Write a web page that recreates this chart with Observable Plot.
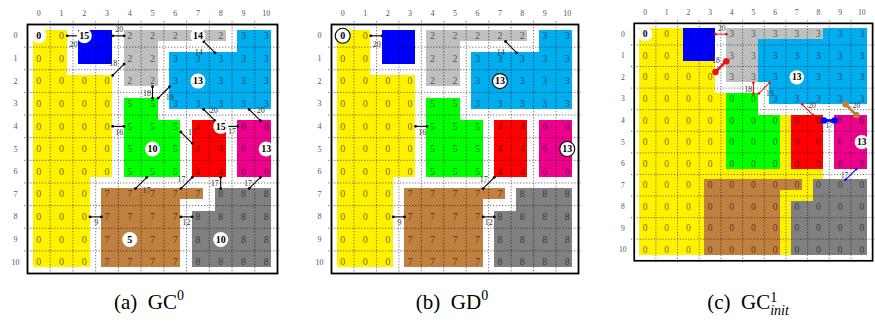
<!DOCTYPE html>
<html><head><meta charset="utf-8">
<script src="https://cdn.jsdelivr.net/npm/d3@7"></script>
<script src="https://cdn.jsdelivr.net/npm/@observablehq/plot@0.6"></script>
<style>
html,body{margin:0;padding:0;background:#fff;}
#root{position:relative;width:875px;height:323px;overflow:hidden;font-family:"Liberation Serif",serif;color:#000;}
.panel{position:absolute;top:0;}
.cap{position:absolute;top:288px;width:300px;font-size:21px;text-align:center;white-space:nowrap;line-height:28px;}
.cap sup{font-size:14px;vertical-align:9px;line-height:0;}
.stack{display:inline-block;vertical-align:-6px;line-height:13px;font-size:14px;text-align:left;}
.stack i{display:block;}
</style></head><body><div id="root"></div>
<script>
// ---------- data ----------
const ticks = [0,1,2,3,4,5,6,7,8,9,10];
// original region id of every cell (row 0 at top)
const regionRows = [
  "00112222233",
  "00112233333",
  "00002233333",
  "00005533333",
  "00005554466",
  "00005554466",
  "00005554466",
  "00077777888",
  "00077778888",
  "00077778888",
  "00077778888"
];
const regionColors = ["#fff200","#0000ff","#bfbfbf","#00aeef","#ff0000","#00ff00","#ec008c","#bf8040","#808080"];
// label of each original region after merging (panel c)
const mergedLabelC = [0,0,3,3,0,0,6,0,0];
// circled nodes [row, col, value]
const nodesA = [[0,0,0],[0,2,15],[0,7,14],[2,7,13],[4,8,15],[5,5,10],[5,10,13],[9,4,5],[9,8,10]];
const nodesB = [[0,0,0],[2,7,13],[5,10,13]];
const nodesC = [[0,0,0],[2,7,13],[5,10,13]];
// edges [row1, col1, row2, col2, weight]
const edgesA = [[0,1,0,2,20],[0,3,0,4,20],[2,3,1,4,18],[2,5,3,5,18],[3,5,2,6,19],[0,7,1,8,14],
  [3,7,4,8,20],[3,9,4,10,20],[4,8,4,9,17],[4,6,5,7,17],[6,7,7,6,17],[6,5,7,4,17],
  [6,8,7,8,17],[6,10,7,9,17],[8,2,8,3,9],[8,6,8,7,12],[4,3,4,4,16]];
const edgesB = [[0,1,0,2,20],[0,7,1,8,14],[4,3,4,4,16],[6,7,7,6,17],[8,2,8,3,9],[8,6,8,7,12]];
const edgesC = [[0,3,0,4,20],[2,3,1,4,18],[2,5,3,5,18],[3,5,2,6,19],[3,7,4,8,20],[4,8,4,9,17],[3,9,4,10,20],[6,10,7,9,17]];
const edgeColorC = ["red","red","red","red","red","blue","brown","blue"];
const edgeBoldC = [false,true,false,false,false,true,true,false];

// ---------- layout / style ----------
const labelShift = { // [dRow, dCol] from edge midpoint
  "0,1-0,2":[0.37,0.02],"0,3-0,4":[-0.27,0.04],"2,3-1,4":[-0.28,-0.23],"2,5-3,5":[0.05,-0.24],
  "3,5-2,6":[0.24,0.26],"0,7-1,8":[0.22,-0.46],"3,7-4,8":[-0.21,0.2],"3,9-4,10":[-0.21,0.26],
  "4,8-4,9":[0.23,0],"4,6-5,7":[-0.25,0.24],"6,7-7,6":[-0.14,-0.22],"6,5-7,4":[0.31,0.24],
  "6,8-7,8":[0.04,-0.26],"6,10-7,9":[0.04,-0.3],"8,2-8,3":[0.26,0.03],"8,6-8,7":[0.26,0],"4,3-4,4":[0.27,0.04]
};
const edgeColorMap = {black:"#000", red:"#ee1111", blue:"#0000ff", brown:"#bf8040"};
const SERIF = "Liberation Serif, serif";

const grid = regionRows.map(s => s.split("").map(Number));
const cells = [];
grid.forEach((row,r) => row.forEach((v,c) => cells.push({r,c,v})));

function pieces(g, colorOf) {
  const n = g.length, m = g[0].length, q = 0.25, out = [];
  const at = (r,c) => (r<0||c<0||r>=n||c>=m) ? null : g[r][c];
  for (let r=0;r<n;r++) for (let c=0;c<m;c++) {
    const v = at(r,c); if (v==null) continue;
    const s = (dr,dc) => at(r+dr,c+dc) === v;
    const L=s(0,-1), R=s(0,1), T=s(-1,0), B=s(1,0), fill = colorOf(v);
    out.push({x1:c-(L?0.5:q), x2:c+(R?0.5:q), y1:r-q, y2:r+q, fill});
    if (T) out.push({x1:c-(L&&s(-1,-1)?0.5:q), x2:c+(R&&s(-1,1)?0.5:q), y1:r-0.5, y2:r-q, fill});
    if (B) out.push({x1:c-(L&&s(1,-1)?0.5:q), x2:c+(R&&s(1,1)?0.5:q), y1:r+q, y2:r+0.5, fill});
  }
  return out;
}

function edgeRows(edges, colors, bolds) {
  return edges.map((e,i) => {
    const [r1,c1,r2,c2,w] = e, dr=r2-r1, dc=c2-c1;
    const sh = labelShift[`${r1},${c1}-${r2},${c2}`] || [0.25,0];
    return {ya:r1+0.25*dr, xa:c1+0.25*dc, yb:r1+0.75*dr, xb:c1+0.75*dc,
      ly:(r1+r2)/2+sh[0], lx:(c1+c2)/2+sh[1], w,
      color: edgeColorMap[colors ? colors[i] : "black"], bold: bolds ? bolds[i] : false};
  });
}

function panel({width, layers, labelOf, nodes, nodeStroke, edges}) {
  const nodeSet = new Set(nodes.map(d => d[0]+","+d[1]));
  const txt = cells.filter(d => !nodeSet.has(d.r+","+d.c));
  const ends = edges.flatMap(e => [{x:e.xa,y:e.ya,e},{x:e.xb,y:e.yb,e}]);
  const thin = edges.filter(e => !e.bold), bold = edges.filter(e => e.bold);
  const thinEnds = ends.filter(d => !d.e.bold), boldEnds = ends.filter(d => d.e.bold);
  const bounds = [0.5,1.5,2.5,3.5,4.5,5.5,6.5,7.5,8.5,9.5];
  return Plot.plot({
    width, height: 278, marginLeft: 27, marginRight: 3, marginTop: 24, marginBottom: 5,
    x: {domain: [-0.5,10.5], axis: null},
    y: {domain: [10.5,-0.5], axis: null},
    style: {fontFamily: SERIF, background: "white", overflow: "visible"},
    marks: [
      ...layers.map(L => Plot.rect(L, {x1:"x1", x2:"x2", y1:"y1", y2:"y2", fill:"fill", shapeRendering:"crispEdges"})),
      Plot.ruleX(bounds, {x: d=>d, y1:-0.62, y2:10.62, stroke:"#000", strokeWidth:0.7, strokeDasharray:"1,2"}),
      Plot.ruleY(bounds, {y: d=>d, x1:-0.62, x2:10.62, stroke:"#000", strokeWidth:0.7, strokeDasharray:"1,2"}),
      Plot.frame({stroke:"#000", strokeWidth:1.8}),
      Plot.text(txt, {x:"c", y:"r", text: d => labelOf(d.v), fontSize:10, fill:"#000", fillOpacity:0.6}),
      Plot.link(thin, {x1:"xa", y1:"ya", x2:"xb", y2:"yb", stroke: d=>d.color, strokeWidth:1.1}),
      Plot.link(bold, {x1:"xa", y1:"ya", x2:"xb", y2:"yb", stroke: d=>d.color, strokeWidth:2.8}),
      Plot.dot(thinEnds, {x:"x", y:"y", r:1.4, fill: d=>d.e.color, stroke:"none"}),
      Plot.dot(boldEnds, {x:"x", y:"y", r:3.4, fill: d=>d.e.color, stroke:"none"}),
      Plot.text(edges, {x:"lx", y:"ly", text:"w", fontSize:8, fill:"#333"}),
      Plot.dot(nodes, {x: d=>d[1], y: d=>d[0], r:7.5, fill:"white", stroke: nodeStroke, strokeWidth:1.1}),
      Plot.text(nodes, {x: d=>d[1], y: d=>d[0], text: d=>d[2], fontSize:10, fontWeight:"bold", fill:"#000"}),
      Plot.text(ticks, {x: d=>d, y: -0.5, dy: -11, fontSize:8, fill:"#555"}),
      Plot.text(ticks, {x: -0.5, y: d=>d, dx: -12, fontSize:8, fill:"#555"})
    ]
  });
}

const root = document.getElementById("root");
function place(node, left) { const d = document.createElement("div"); d.className="panel"; d.style.left=left+"px"; d.appendChild(node); root.appendChild(d); }
function caption(html, center) { const d=document.createElement("div"); d.className="cap"; d.style.left=(center-150)+"px"; d.innerHTML=html; root.appendChild(d); }

const baseLayer = pieces(grid, v => regionColors[v]);
const mergedGrid = grid.map(row => row.map(v => mergedLabelC[v]));

place(panel({width:280, layers:[baseLayer], labelOf: v=>v, nodes: nodesA, nodeStroke:"none", edges: edgeRows(edgesA)}), 0);
place(panel({width:277, layers:[baseLayer], labelOf: v=>v, nodes: nodesB, nodeStroke:"#000", edges: edgeRows(edgesB)}), 304);
place(panel({width:280, layers:[pieces(mergedGrid, v => regionColors[v]), baseLayer], labelOf: v=>mergedLabelC[v], nodes: nodesC, nodeStroke:"none",
  edges: edgeRows(edgesC, edgeColorC, edgeBoldC)}), 608);

caption("(a)&ensp;GC<sup>0</sup>", 149);
caption("(b)&ensp;GD<sup>0</sup>", 452);
caption("(c)&ensp;GC<span class='stack'><span>1</span><i>init</i></span>", 748);
</script></body></html>
